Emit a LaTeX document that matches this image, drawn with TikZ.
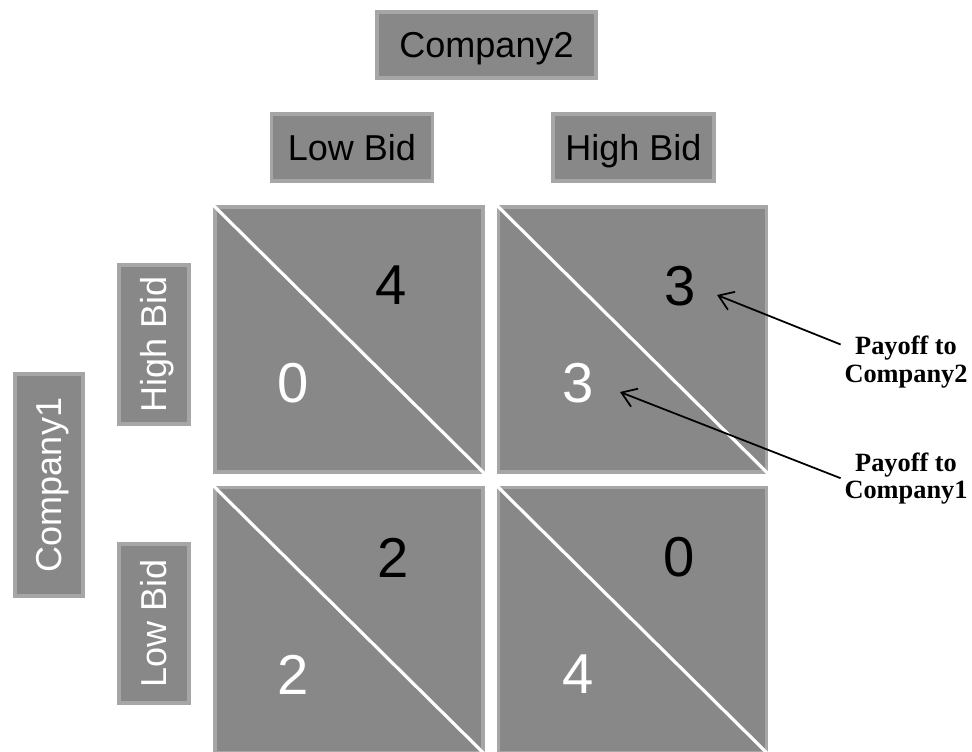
\documentclass[tikz,border=0pt]{standalone}
\usepackage{fontspec}
\setmainfont{Liberation Sans}
\newfontfamily\payfont{Liberation Serif}
\usetikzlibrary{arrows.meta, positioning}
\definecolor{cellgray}{RGB}{136,136,136}
\definecolor{edgegray}{RGB}{166,166,166}

\begin{document}
\begin{tikzpicture}[
  x=0.02cm, y=-0.02cm,
  % ── Style definitions ──
  box/.style={
    rectangle, fill=cellgray, draw=edgegray, line width=2.2pt,
    inner sep=0pt, text height=14.6pt, text depth=0pt,
    font=\fontsize{20.5}{24}\selectfont
  },
  hlab/.style={box, minimum width=3.22cm, minimum height=1.34cm},
  vlab/.style={box, rotate=90, text=white,
    minimum width=3.18cm, minimum height=1.40cm},
  cell/.style={box, minimum width=5.36cm, minimum height=5.30cm},
  cut/.style ={white, line width=1.8pt},
  pay/.style ={font=\fontsize{32}{36}\selectfont},
  pay1/.style={pay, text=white},
  note/.style={
    align=center, inner sep=2pt,
    font=\payfont\bfseries\fontsize{15}{15.5}\selectfont
  },
  ptr/.style ={-{Straight Barb[length=8pt,width=11pt]}, line width=1pt}
]
\useasboundingbox (0,0) rectangle (972,751);

% ─────────── Player labels ───────────────────────────────────
\node[hlab, minimum width=4.38cm, minimum height=1.32cm] (co2) at (486.5,45) {Company2};
\node[hlab] (c2low)  at (352,147.5)   {Low Bid};
\node[hlab] (c2high) at (633.5,147.5) {High Bid};
\node[vlab, minimum width=4.44cm, minimum height=1.36cm] (co1) at (49,485) {Company1};
\node[vlab] (c1high) at (154,344.5) {High Bid};
\node[vlab] (c1low)  at (154,623.5) {Low Bid};

% ─────────── Payoff cells ────────────────────────────────────
\node[cell] (hl) at (349,339.5)   {};
\node[cell] (hh) at (632.5,339.5) {};
\node[cell] (ll) at (349,620)     {};
\node[cell] (lh) at (632.5,620)   {};
\foreach \c in {hl,hh,ll,lh}
  \draw[cut] (\c.north west) -- (\c.south east);

% ─────────── Payoffs (upper: Company2, lower: Company1) ──────
\node[pay]  (hl2) at (391,285) {4};
\node[pay1] (hl1) at (293,383) {0};
\node[pay]  (hh2) at (680,286) {3};
\node[pay1] (hh1) at (578,383) {3};
\node[pay]  (ll2) at (393,558) {2};
\node[pay1] (ll1) at (293,675) {2};
\node[pay]  (lh2) at (679,557) {0};
\node[pay1] (lh1) at (578,674) {4};

% ─────────── Notes ───────────────────────────────────────────
\node[note] (p2) at (906,362) {Payoff to\\Company2};
\node[note, below=1.14cm of p2] (p1) {Payoff to\\Company1};

\coordinate (t2) at (717,295);
\coordinate (t1) at (620,392);
\draw[ptr] (p2.165)  -- (t2);
\draw[ptr] (p1.west) -- (t1);
\end{tikzpicture}
\end{document}
